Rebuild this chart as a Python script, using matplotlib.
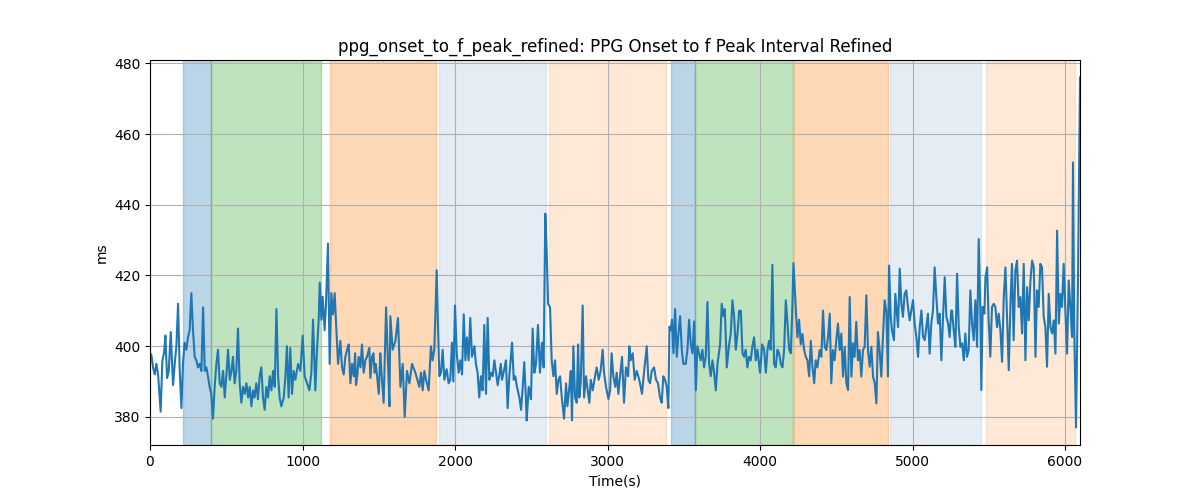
import matplotlib
matplotlib.use("Agg")
import matplotlib.pyplot as plt

# Phase boundaries (seconds)
span_starts = [218, 400, 1180, 1893, 2616, 3416, 3575, 4223, 4852, 5482]
span_ends = [400, 1121, 1875, 2597, 3384, 3575, 4218, 4841, 5448, 6066]
span_colors = ["tab:blue", "tab:green", "tab:orange", "lightsteelblue", "tab:orange",
               "tab:blue", "tab:green", "tab:orange", "lightsteelblue", "tab:orange"]
span_alphas = [0.3, 0.3, 0.3, 0.32, 0.17, 0.3, 0.3, 0.3, 0.32, 0.17]

# Interval series
time_s = [
    0, 9, 20, 31, 42, 53, 70, 81, 92, 101, 112, 123, 136, 151, 162, 173, 184, 195, 206, 216,
    227, 238, 249, 260, 271, 282, 293, 304, 315, 326, 337, 348, 359, 370, 380, 391, 402, 413, 424, 435,
    446, 457, 468, 479, 490, 501, 512, 523, 534, 544, 555, 566, 577, 588, 599, 610, 621, 632, 643, 654,
    665, 676, 686, 697, 708, 719, 730, 741, 752, 763, 774, 785, 796, 807, 818, 829, 840, 850, 861,
    877, 888, 898, 909, 920, 931, 942, 953, 971, 986, 1001, 1014, 1030, 1045, 1058, 1069, 1084, 1095,
    1106, 1113, 1124, 1132, 1145, 1154, 1167, 1178, 1189, 1200, 1211, 1220, 1233, 1248, 1259, 1270,
    1281, 1292, 1303, 1314, 1325, 1336, 1345, 1351, 1360, 1368, 1380, 1390, 1401, 1412, 1423, 1438,
    1445, 1456, 1465, 1473, 1480, 1489, 1500, 1510, 1517, 1532, 1548, 1561, 1570, 1576, 1591, 1609,
    1626, 1642, 1657, 1670, 1685, 1701, 1718, 1740,
    1766, 1777, 1788, 1799, 1810, 1827, 1842, 1853, 1864, 1880, 1888, 1897, 1908, 1919, 1930, 1945,
    1958, 1969, 1980, 1989, 2000, 2011, 2024, 2035, 2046, 2057, 2068, 2078, 2089, 2100, 2111, 2127,
    2137, 2148, 2159, 2170, 2181, 2192, 2203, 2214, 2225, 2236, 2247, 2258, 2269, 2280, 2291, 2300,
    2308, 2323, 2334, 2345, 2356, 2374, 2385, 2395, 2406, 2422, 2433, 2444, 2454, 2465, 2470, 2483,
    2498, 2509, 2520, 2531, 2544, 2557, 2570, 2581, 2592, 2601, 2610, 2623,
    2634, 2645, 2656, 2667, 2678, 2689, 2700, 2715, 2728, 2737, 2750, 2759, 2767, 2776, 2787, 2798,
    2807, 2815, 2824, 2837, 2846, 2859, 2870, 2881, 2890, 2903, 2918, 2929, 2942, 2955, 2968, 2977,
    2990, 3006, 3017, 3027, 3038, 3051, 3060, 3071, 3082, 3095, 3108, 3121, 3135, 3143, 3152, 3165,
    3178, 3191, 3202, 3213, 3226, 3239, 3257, 3268, 3279, 3290, 3305, 3318, 3331, 3344, 3355, 3366,
    3377, 3388, 3399, 3406, 3414, 3423, 3432, 3443, 3454, 3465, 3476, 3487, 3497,
    3513, 3524, 3535, 3546, 3557, 3568, 3579, 3589, 3600, 3611, 3622, 3633, 3644, 3655, 3666, 3677,
    3688, 3699, 3710, 3721, 3738, 3749, 3760, 3769, 3782, 3797, 3808, 3819, 3830, 3841, 3852, 3863,
    3874, 3885, 3895, 3906, 3917, 3928, 3939, 3950, 3961, 3972, 3983, 4000, 4014, 4027, 4038, 4049,
    4059, 4070, 4081, 4092, 4103, 4114, 4125, 4136, 4147, 4158, 4169, 4180, 4191, 4202, 4212, 4219,
    4228, 4237, 4245, 4256, 4267, 4278, 4289, 4300, 4311, 4322, 4333, 4344, 4355, 4365, 4376,
    4391, 4402, 4413, 4424, 4435, 4446, 4457, 4467, 4478, 4489, 4500, 4511, 4522, 4533, 4544, 4555,
    4566, 4577, 4588, 4599, 4610, 4620, 4631, 4642, 4653, 4664, 4675, 4686, 4697, 4708, 4719, 4730,
    4741, 4752, 4763, 4773, 4784, 4795, 4806, 4817, 4828, 4839, 4846, 4857, 4865, 4878, 4887, 4896,
    4905, 4916, 4927, 4937, 4948, 4959, 4970, 4981, 4992, 5003, 5014, 5025, 5036, 5047, 5058, 5069,
    5080, 5090, 5101, 5112, 5123, 5134, 5145, 5156, 5167, 5178, 5189, 5200, 5211, 5222, 5233, 5243, 5254,
    5259, 5270, 5281, 5292, 5303, 5314, 5325, 5336, 5346, 5357, 5368, 5379, 5390, 5401, 5412, 5423,
    5434, 5445, 5451, 5460, 5471, 5478, 5489, 5499, 5510, 5521, 5532, 5543, 5554, 5565, 5576, 5587,
    5598, 5609, 5620, 5631, 5642, 5652, 5663, 5674, 5685, 5696, 5707, 5718, 5729, 5740, 5751, 5762,
    5773, 5784, 5795, 5806, 5816, 5827, 5838, 5849, 5860, 5871, 5882, 5893, 5904, 5915, 5926, 5937,
    5948, 5959, 5970, 5980, 5991, 6002, 6013, 6024, 6035, 6046, 6052, 6060, 6072, 6085, 6098,
]
interval_ms = [
    398, 397.5, 394, 392, 395, 392, 381.5, 396, 398, 403, 391, 393, 404, 389, 395, 400, 412, 393, 382.5, 395,
    401, 399, 402.5, 404.5, 415, 404.5, 397, 396, 394, 395, 393, 411, 393, 394, 391.5, 388.5, 386.5, 379.5, 388.5, 395,
    399, 389.5, 388.5, 393, 385.5, 392, 399, 390.5, 393, 397, 389.5, 393, 405, 389.5, 384, 388.5, 386.5, 389.5, 385.5, 388.5,
    383, 387.5, 385.5, 389.5, 385, 391.5, 394, 385.5, 382, 388.5, 385.5, 391.5, 387.5, 393, 388.5, 410.5, 391.5, 385.5, 383,
    385.5, 391.5, 400, 385.5, 399.5, 386.5, 393, 390.5, 395, 393, 403, 391.5, 389.5, 387.5, 392.5, 407.5, 387.5, 399,
    407.5, 418, 407.5, 414, 404.5, 412, 429, 395, 415, 409, 415, 406.5, 395, 401.5, 394, 392,
    397, 399, 400.5, 389.5, 395, 391.5, 398, 389, 392, 397, 394, 400.5, 392.5, 396, 397, 399.5,
    391, 397, 398, 392.5, 395, 391.5, 386.5, 398, 393, 384, 411, 395, 383, 408.5, 399, 401.5,
    408, 388.5, 395, 380, 393, 389.5, 395, 392.5,
    388.5, 392.5, 387.5, 393, 390.5, 387.5, 400, 396, 399, 421.5, 406.5, 391.5, 392.5, 399, 390.5, 393.5,
    389.5, 390.5, 401, 390, 411.5, 398, 392.5, 396, 392, 409, 396, 402.5, 396, 408, 397, 400,
    395, 392.5, 385.5, 391.5, 387.5, 406, 386.5, 408, 390.5, 392.5, 391.5, 396, 392.5, 389, 392, 395,
    390.5, 393.5, 396, 382.5, 391.5, 401, 390.5, 391.5, 388.5, 385.5, 382, 388.5, 395.5, 385, 379, 388.5,
    385, 405, 392.5, 395, 406, 392.5, 401, 394, 437.5, 427, 412, 411,
    396, 391.5, 396, 386.5, 390.5, 391.5, 385.5, 379.5, 389.5, 383, 388.5, 393, 379, 400, 385.5, 384,
    400.5, 385.5, 389.5, 411.5, 385.5, 391.5, 387.5, 384, 390.5, 387.5, 391.5, 394, 390.5, 393, 399, 392.5,
    388.5, 385, 387.5, 398, 391.5, 388.5, 392.5, 386.5, 391.5, 397, 384, 394, 391.5, 400, 396, 398,
    390.5, 393, 391.5, 389.5, 386.5, 392.5, 400, 390.5, 389.5, 393, 394, 390.5, 389.5, 385.5, 384, 391.5,
    390.5, 388.5, 382.5, 405.5, 404.5, 407.5, 398, 410.5, 397, 403.5, 408.5, 399, 395,
    395, 399, 407.5, 400.5, 398, 407, 387.5, 400, 398, 396, 399, 394, 397, 412.5, 395, 391.5,
    396, 392.5, 387.5, 395, 400.5, 412, 408.5, 410.5, 394, 400.5, 403.5, 413, 408.5, 399, 403.5, 410,
    410, 398, 397, 399, 394, 397, 396, 400, 402.5, 396, 399, 392.5, 400.5, 399, 392.5, 399,
    401.5, 399, 423, 395, 394, 399, 398, 395, 394, 399, 413, 406.5, 399, 398, 411, 423.5,
    416, 408.5, 402.5, 407.5, 400.5, 403.5, 399, 397, 396, 391.5, 401.5, 394, 389.5, 396, 394,
    398.9, 397, 410.1, 399.8, 398.9, 402.6, 409.2, 389.5, 398.9, 396, 401.7, 406.4, 398.9, 403.6, 391.4, 399.8,
    389.5, 387.6, 413.9, 391.4, 400.8, 397, 406.9, 396, 398.9, 391.4, 398.9, 399.8, 414.4, 398.9, 394.2, 399.8,
    391.4, 389.5, 383.8, 404, 398.9, 391.4, 402.6, 413, 410.1, 391.4, 422.8, 408.3, 404.5, 401.7, 414.8, 410.1,
    405.4, 421.9, 412, 408.3, 414.8, 415.8, 411.1, 407.3, 410.1, 413, 406.4, 402.6, 397, 405.4, 410.1, 402.6,
    401.7, 405.4, 409.2, 397.9, 406.4, 410.1, 422.3, 413.9, 406.4, 409.2, 396, 408.3, 419.5, 408.3, 406.4, 402.6, 410.1,
    410.1, 404.5, 399.8, 420.5, 405.4, 399.8, 400.8, 396, 403.6, 397, 398.9, 415.8, 406.4, 401.7, 413, 399.8,
    430.3, 409.2, 387.6, 411.1, 409.2, 419.5, 422.3, 407.3, 397, 411.1, 412, 411.1, 405.4, 409.2, 404.5, 395.6,
    413.9, 422.3, 407.3, 393.2, 412, 423.3, 401.7, 421.4, 424.2, 411.1, 413.9, 403.6, 423.3, 396, 416.7, 407.3,
    418.6, 424.2, 422.3, 397, 415.8, 411.1, 423.3, 422.3, 408.3, 405.4, 394.2, 414.8, 405.4, 403.6, 407.3, 397.9,
    432.7, 406.4, 414.8, 411.1, 423.3, 410.1, 397.9, 418.6, 411.1, 402.6, 452, 405, 377, 420, 476,
]

fig, ax = plt.subplots(figsize=(12, 5))

for start, end, color, alpha in zip(span_starts, span_ends, span_colors, span_alphas):
    ax.axvspan(start, end, color=color, alpha=alpha)

ax.plot(time_s, interval_ms, color="tab:blue")
ax.set_xlim(0, time_s[-1])
ax.grid(True)
ax.set_title("ppg_onset_to_f_peak_refined: PPG Onset to f Peak Interval Refined")
ax.set_xlabel("Time(s)")
ax.set_ylabel("ms")

fig.savefig("out.png", dpi=100)
